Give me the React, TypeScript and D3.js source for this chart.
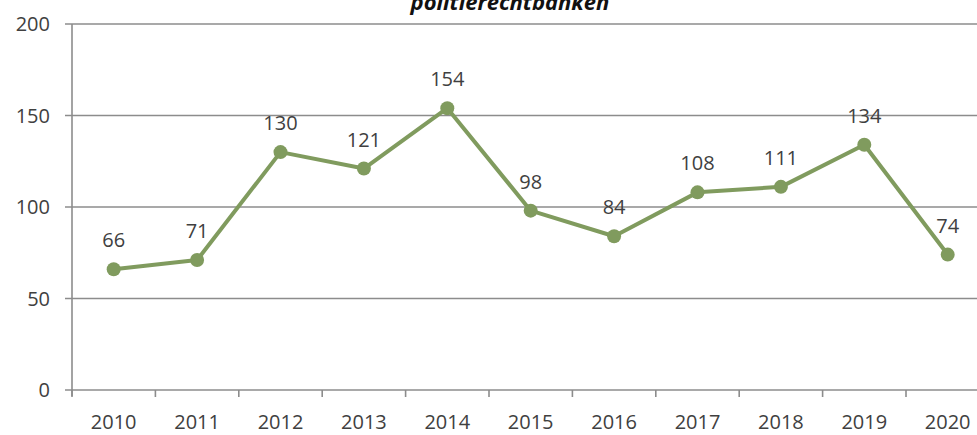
import React from "react";
import * as d3 from "d3";

const years = ["2010","2011","2012","2013","2014","2015","2016","2017","2018","2019","2020"];
const values = [66, 71, 130, 121, 154, 98, 84, 108, 111, 134, 74];
const yTicks = [0, 50, 100, 150, 200];
const title = "politierechtbanken";

export default function App() {
  const W = 977, H = 435;
  const left = 72, top = 24, bottom = 390;
  const bandW = 83.4;
  const x = d3.scaleBand().domain(years).range([left, left + bandW * years.length]).padding(0);
  const y = d3.scaleLinear().domain([0, 200]).range([bottom, top]);
  const line = d3.line<number>().x((_, i) => x(years[i])! + x.bandwidth() / 2).y(d => y(d));
  const font = "'Open Sans', 'Liberation Sans', sans-serif";
  const green = "#809b5e";
  return (
    <svg width={W} height={H} style={{ position: "absolute", left: 0, top: 0, background: "#fff" }}>
      <text x={510} y={10} textAnchor="middle" fontFamily={font} fontWeight="bold" fontStyle="italic" fontSize={22} fill="#111">{title}</text>
      {yTicks.map(t => (
        <g key={t}>
          <line x1={left - 7} x2={W} y1={y(t)} y2={y(t)} stroke="#8c8c8c" strokeWidth={1.6} />
          <text x={50} y={y(t) + 7} textAnchor="end" fontFamily={font} fontSize={20} fill="#404040">{t}</text>
        </g>
      ))}
      <line x1={left} x2={left} y1={top} y2={bottom + 6} stroke="#8c8c8c" strokeWidth={1.6} />
      {years.map((yr) => (
        <g key={yr}>
          <line x1={x(yr)!} x2={x(yr)!} y1={bottom} y2={bottom + 7} stroke="#8c8c8c" strokeWidth={1.6} />
          <text x={x(yr)! + x.bandwidth() / 2} y={429} textAnchor="middle" fontFamily={font} fontSize={20} fill="#404040">{yr}</text>
        </g>
      ))}
      <path d={line(values)!} fill="none" stroke={green} strokeWidth={4} strokeLinejoin="round" />
      {values.map((v, i) => {
        const cx = x(years[i])! + x.bandwidth() / 2;
        return (
          <g key={i}>
            <circle cx={cx} cy={y(v)} r={7} fill={green} />
            <text x={cx} y={y(v) - 22} textAnchor="middle" fontFamily={font} fontSize={20} fill="#404040">{v}</text>
          </g>
        );
      })}
    </svg>
  );
}
